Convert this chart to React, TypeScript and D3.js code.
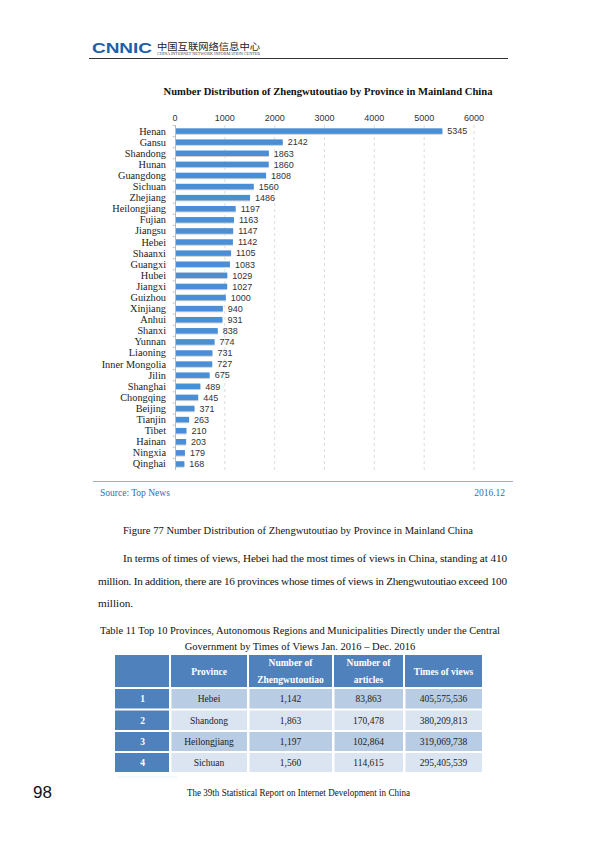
import React from "react";
import * as d3 from "d3";

const provinces = ["Henan","Gansu","Shandong","Hunan","Guangdong","Sichuan","Zhejiang","Heilongjiang","Fujian","Jiangsu","Hebei","Shaanxi","Guangxi","Hubei","Jiangxi","Guizhou","Xinjiang","Anhui","Shanxi","Yunnan","Liaoning","Inner Mongolia","Jilin","Shanghai","Chongqing","Beijing","Tianjin","Tibet","Hainan","Ningxia","Qinghai"];
const counts = [5345,2142,1863,1860,1808,1560,1486,1197,1163,1147,1142,1105,1083,1029,1027,1000,940,931,838,774,731,727,675,489,445,371,263,210,203,179,168];
const xTicks = [0,1000,2000,3000,4000,5000,6000];

const tableHeaders = ["", "Province", "Number of|Zhengwutoutiao", "Number of|articles", "Times of views"];
const tableRanks = ["1","2","3","4"];
const tableProvinces = ["Hebei","Shandong","Heilongjiang","Sichuan"];
const tableCounts = ["1,142","1,863","1,197","1,560"];
const tableArticles = ["83,863","170,478","102,864","114,615"];
const tableViews = ["405,575,536","380,209,813","319,069,738","295,405,539"];

const serif = "'Liberation Serif', 'Times New Roman', serif";
const sans = "'Liberation Sans', Arial, sans-serif";

export default function App() {
  const x = d3.scaleLinear().domain([0, 6000]).range([175, 474]);
  const y = d3.scaleBand<string>().domain(provinces).range([125.5, 469.5]).padding(0);
  const bh = 5.5;

  const colX = [115, 170, 248, 333, 404, 483];
  const rowY = [655, 688, 709.5, 731, 752, 773];

  const rows = tableRanks.map((r, i) => [r, tableProvinces[i], tableCounts[i], tableArticles[i], tableViews[i]]);

  return (
    <svg width={600} height={848} style={{ position: "absolute", left: 0, top: 0, background: "#fff" }}>
      <rect width={600} height={848} fill="#fff" />
      {/* header */}
      <text x={92} y={52.5} fontFamily={sans} fontWeight={900} fontSize={15} fill="#1d5fab" textLength={60} lengthAdjust="spacingAndGlyphs">CNNIC</text>
      <text x={157} y={50} fontFamily="'Noto Sans CJK SC'" fontSize={9.5} fill="#222" textLength={103} lengthAdjust="spacingAndGlyphs">中国互联网络信息中心</text>
      <text x={157} y={55} fontFamily={serif} fontSize={3.5} fill="#444" textLength={103} lengthAdjust="spacingAndGlyphs">CHINA INTERNET NETWORK INFORMATION CENTER</text>
      <line x1={89} x2={508} y1={58.5} y2={58.5} stroke="#333" strokeWidth={1.2} />

      {/* chart title */}
      <text x={328} y={95} textAnchor="middle" fontFamily={serif} fontWeight="bold" fontSize={11} fill="#111" textLength={329} lengthAdjust="spacingAndGlyphs">Number Distribution of Zhengwutoutiao by Province in Mainland China</text>

      {/* grid */}
      {xTicks.map((t) => (
        <g key={t}>
          {t > 0 && <line x1={x(t)} x2={x(t)} y1={125} y2={470} stroke="#d4d4d4" strokeWidth={0.8} strokeDasharray="3,3" />}
          <text x={x(t)} y={120.5} textAnchor="middle" fontFamily={sans} fontSize={9} fill="#333">{t}</text>
        </g>
      ))}
      <line x1={175.5} x2={175.5} y1={125} y2={470} stroke="#bbb" strokeWidth={1} />
      {provinces.map((p) => (
        <line key={"t" + p} x1={172.5} x2={175.5} y1={y(p)!} y2={y(p)!} stroke="#bbb" strokeWidth={0.8} />
      ))}

      {provinces.map((p, i) => {
        const cy = y(p)! + y.bandwidth() / 2;
        return (
          <g key={p}>
            <rect x={x(0) + 1} y={cy - bh / 2 + 2} width={x(counts[i]) - x(0)} height={bh - 1} fill="#cfcfcf" />
            <rect x={x(0) + 1} y={cy - bh / 2} width={x(counts[i]) - x(0)} height={bh} fill="#4a8fd6" />
            <text x={166} y={cy + 3.5} textAnchor="end" fontFamily={serif} fontSize={10.3} fill="#222">{p}</text>
            <text x={x(counts[i]) + 6} y={cy + 3.3} fontFamily={sans} fontSize={9} fill="#333">{counts[i]}</text>
          </g>
        );
      })}

      {/* source */}
      <line x1={93} x2={513} y1={481.5} y2={481.5} stroke="#8fb3dc" strokeWidth={1.2} />
      <text x={100} y={496} fontFamily={serif} fontSize={9.5} fill="#2f6db5">Source: Top News</text>
      <text x={505} y={496} textAnchor="end" fontFamily={serif} fontSize={9.5} fill="#2f6db5">2016.12</text>

      {/* caption */}
      <text x={123} y={534} fontFamily={serif} fontSize={10.5} fill="#111" textLength={350} lengthAdjust="spacingAndGlyphs">Figure 77 Number Distribution of Zhengwutoutiao by Province in Mainland China</text>

      {/* paragraph */}
      <text x={123} y={562} fontFamily={serif} fontSize={11.2} fill="#111" textLength={384} lengthAdjust="spacing">In terms of times of views, Hebei had the most times of views in China, standing at 410</text>
      <text x={98} y={585} fontFamily={serif} fontSize={11.2} fill="#111" textLength={409} lengthAdjust="spacing">million. In addition, there are 16 provinces whose times of views in Zhengwutoutiao exceed 100</text>
      <text x={98} y={607} fontFamily={serif} fontSize={11.2} fill="#111">million.</text>

      {/* table title */}
      <text x={300} y={634} textAnchor="middle" fontFamily={serif} fontSize={10.5} fill="#111" textLength={400} lengthAdjust="spacingAndGlyphs">Table 11 Top 10 Provinces, Autonomous Regions and Municipalities Directly under the Central</text>
      <text x={300} y={650} textAnchor="middle" fontFamily={serif} fontSize={10.5} fill="#111">Government by Times of Views Jan. 2016 – Dec. 2016</text>

      {/* table header */}
      {tableHeaders.map((h, c) => {
        const lines = h.split("|");
        const cx = (colX[c] + colX[c + 1]) / 2;
        return (
          <g key={"h" + c}>
            <rect x={colX[c] + (c > 0 ? 1 : 0)} y={rowY[0]} width={colX[c + 1] - colX[c] - (c > 0 ? 1 : 0) - 1} height={rowY[1] - rowY[0] - 1} fill="#4f81bd" />
            {lines.map((l, k) => (
              <text key={k} x={cx} y={lines.length === 1 ? 675 : 666 + k * 17} textAnchor="middle" fontFamily={serif} fontWeight="bold" fontSize={9.5} fill="#fff">{l}</text>
            ))}
          </g>
        );
      })}
      {rows.map((row, r) => (
        <g key={"r" + r}>
          {row.map((v, c) => {
            const fill = c === 0 ? "#4f81bd" : r % 2 === 0 ? "#b8cce4" : "#dbe5f1";
            const cx = (colX[c] + colX[c + 1]) / 2;
            const top = rowY[r + 1] + 1;
            const bot = rowY[r + 2] - 1;
            return (
              <g key={c}>
                <rect x={colX[c] + (c > 0 ? 1.5 : 0)} y={top} width={colX[c + 1] - colX[c] - (c > 0 ? 1.5 : 0) - 1} height={bot - top} fill={fill} />
                <text x={cx} y={(top + bot) / 2 + 3.5} textAnchor="middle" fontFamily={serif} fontSize={9.5} fontWeight={c === 0 ? "bold" : "normal"} fill={c === 0 ? "#fff" : "#222"}>{v}</text>
              </g>
            );
          })}
        </g>
      ))}

      {/* footer */}
      <line x1={117} x2={177} y1={777} y2={777} stroke="#e3f3f7" strokeWidth={1} />
      <text x={33} y={798} fontFamily={sans} fontSize={17} fill="#111">98</text>
      <text x={187} y={796} fontFamily={serif} fontSize={9.5} fill="#111" textLength={223} lengthAdjust="spacingAndGlyphs">The 39th Statistical Report on Internet Development in China</text>
    </svg>
  );
}
